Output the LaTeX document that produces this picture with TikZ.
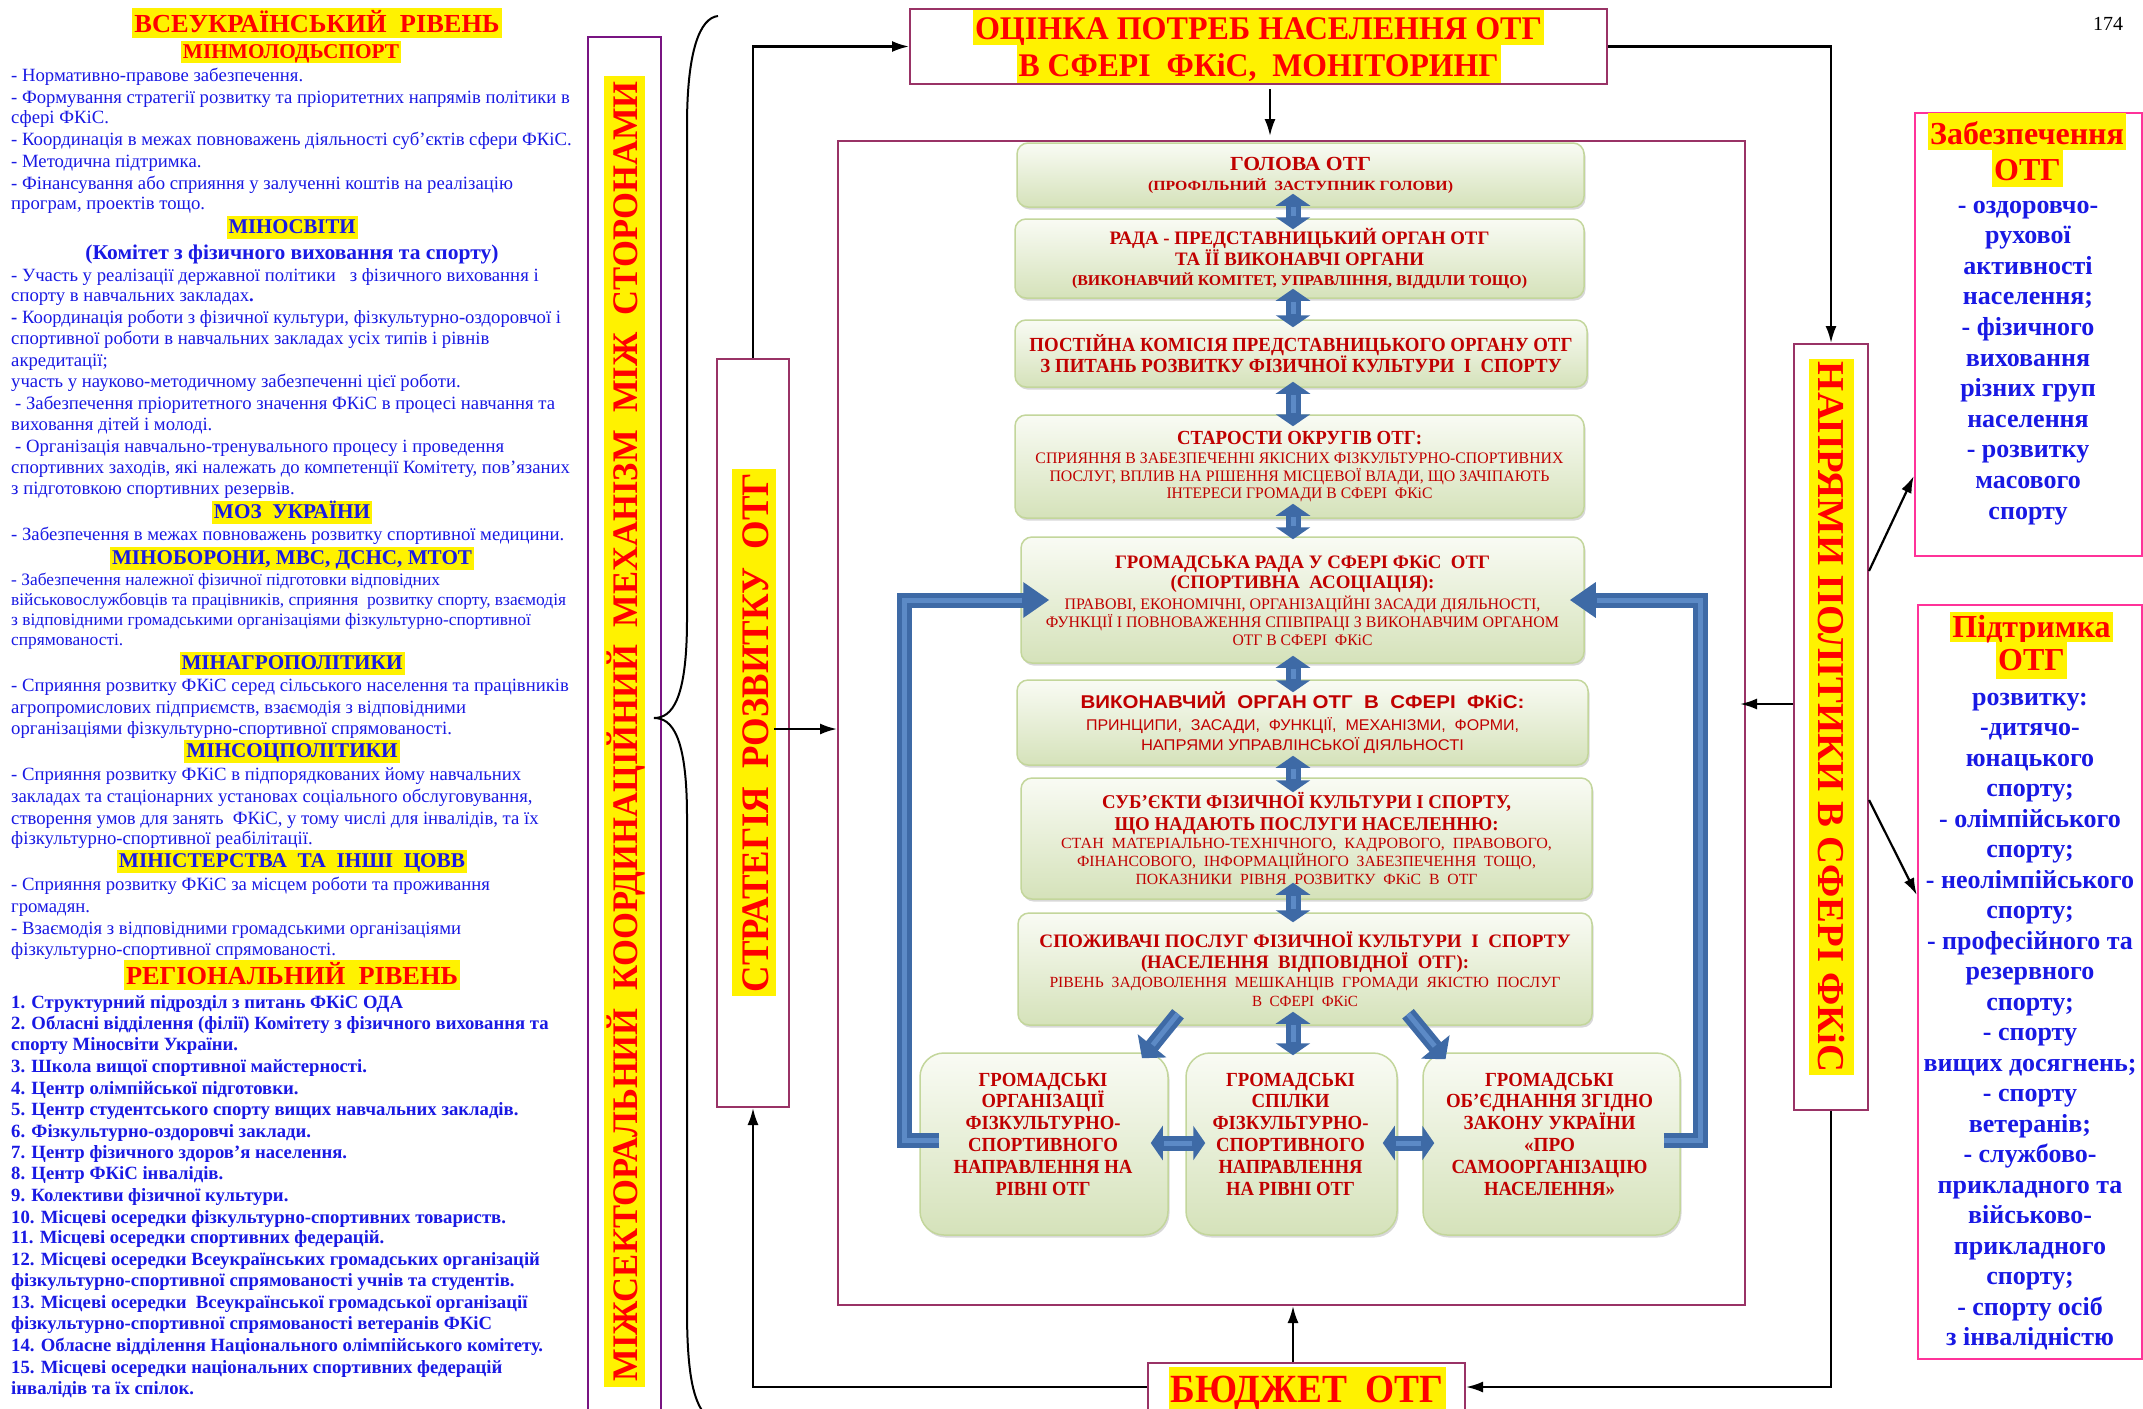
\documentclass[tikz,border=0pt]{standalone}
\usepackage{fontspec}
\setmainfont{Liberation Serif}
\newfontfamily\sansf{Liberation Sans}
\usepackage{graphicx}
\usetikzlibrary{arrows.meta,calc,shadows}
\newcommand\fs[2]{\fontsize{#1}{#2}\selectfont}
\newcommand\W[2]{\resizebox{#1pt}{\height}{#2}}
\definecolor{tblue}{RGB}{25,25,228}
\definecolor{tred}{RGB}{255,0,0}
\definecolor{dred}{RGB}{192,0,0}
\definecolor{maroonb}{RGB}{153,51,102}
\definecolor{purpb}{RGB}{120,20,130}
\definecolor{pinkb}{RGB}{255,51,153}
\definecolor{ablue}{RGB}{62,106,166}
\definecolor{alight}{RGB}{92,138,198}
\definecolor{gtop}{RGB}{249,251,244}
\definecolor{gbot}{RGB}{213,226,186}
\definecolor{gline}{RGB}{195,214,155}
\newcounter{ln}
\newcommand\LL[3][]{\stepcounter{ln}\node[bl,#1] (ln\arabic{ln}) at (11,#2) {#3};}
\tikzset{
  bl/.style={anchor=base west, inner sep=0pt, text=tblue, font=\fs{18.7}{21}},
  bb/.style={font=\fs{18.7}{21}\bfseries},
  sm/.style={font=\fs{17.4}{20}},
  hl/.style 2 args={anchor=base, fill=yellow, inner xsep=2pt, inner ysep=0pt, text height=#1pt, text depth=#2pt},
  bh/.style={hl={17}{6}, text=tblue, font=\fs{21}{23}\bfseries},
  mframe/.style={draw=maroonb, line width=2pt, inner sep=0pt, rectangle},
  pframe/.style={draw=pinkb, line width=2.5pt, inner sep=0pt, rectangle},
  gbox/.style={rectangle, rounded corners=11pt, draw=gline, line width=1.5pt, top color=gtop, bottom color=gbot, drop shadow={shadow xshift=1.5pt, shadow yshift=-2.5pt, opacity=0.3}, inner sep=0pt, text=dred, align=center},
  btxt/.style={align=center, text=dred, font=\fs{20}{21.8}\bfseries, inner sep=0pt},
  con/.style={draw=black, line width=2.2pt, -{Latex[length=17pt,width=11pt]}},
  barrow/.style={draw=ablue, line width=15pt, {Triangle[width=34pt,length=12pt]}-{Triangle[width=34pt,length=12pt]},
    postaction={draw=alight, line width=5pt, -, shorten <=13pt, shorten >=13pt}},
  sarrow/.style={draw=ablue, line width=15pt, -{Triangle[width=36pt,length=16pt]},
    postaction={draw=alight, line width=5pt, -, shorten >=17pt}},
  ubar/.style={draw=ablue, line width=15pt, line join=miter, -{Triangle[width=34pt,length=26pt]},
    postaction={draw=alight, line width=5pt, -, line join=miter, shorten >=27pt}},
  rb/.style={anchor=base, inner sep=0pt, text=tblue, font=\fs{26}{30}\bfseries},
}
\begin{document}
\begin{tikzpicture}[x=1pt,y=-1pt]
\fill[white] (0,0) rectangle (2143,1408);
\useasboundingbox (0,0) rectangle (2143,1408);
\clip (0,0) rectangle (2143,1408);

% ---------- left column ----------
\node[hl={24}{6}, text=tred, font=\fs{26}{28}\bfseries] (h1) at (317,32) {\W{365}{ВСЕУКРАЇНСЬКИЙ~~РІВЕНЬ}};
\node[hl={17}{5}, text=tred, font=\fs{21}{23}\bfseries] (h2) at (291,58) {\W{216}{МІНМОЛОДЬСПОРТ}};
\LL{81}{- Нормативно-правове забезпечення.}
\LL{103}{- Формування стратегії розвитку та пріоритетних напрямів політики в}
\LL{123}{сфері ФКіС.}
\LL{145}{- Координація в межах повноважень діяльності суб’єктів сфери ФКіС.}
\LL{167}{- Методична підтримка.}
\LL{189}{- Фінансування або сприяння у залученні коштів на реалізацію}
\LL{209}{програм, проектів тощо.}
\node[bh] (h3) at (292,233) {\W{127}{МІНОСВІТИ}};
\node[anchor=base, inner sep=0pt, text=tblue, font=\fs{21}{23}\bfseries] (h4) at (292,259) {\W{413}{(Комітет з фізичного виховання та спорту)}};
\LL{281}{- Участь у реалізації державної політики~~ з фізичного виховання і}
\LL{301}{спорту в навчальних закладах\textbf{.}}
\LL{323}{\textbf{-} Координація роботи з фізичної культури, фізкультурно-оздоровчої і}
\LL{344}{спортивної роботи в навчальних закладах усіх типів і рівнів}
\LL{366}{акредитації;}
\LL{387}{участь у науково-методичному забезпеченні цієї роботи.}
\LL[xshift=4pt]{409}{- Забезпечення пріоритетного значення ФКіС в процесі навчання та}
\LL{430}{виховання дітей і молоді.}
\LL[xshift=4pt]{452}{- Організація навчально-тренувального процесу і проведення}
\LL{473}{спортивних заходів, які належать до компетенції Комітету, пов'язаних}
\LL{494}{з підготовкою спортивних резервів.}
\node[bh] (h5) at (292,518) {\W{156}{МОЗ~~УКРАЇНИ}};
\LL{540}{- Забезпечення в межах повноважень розвитку спортивної медицини.}
\node[bh] (h6) at (292,564) {\W{360}{МІНОБОРОНИ, МВС, ДСНС, МТОТ}};
\LL[sm]{585}{- Забезпечення належної фізичної підготовки відповідних}
\LL[sm]{605}{військовослужбовців та працівників, сприяння~~розвитку спорту, взаємодія}
\LL[sm]{625}{з відповідними громадськими організаціями фізкультурно-спортивної}
\LL[sm]{645}{спрямованості.}
\node[bh] (h7) at (292,669) {\W{221}{МІНАГРОПОЛІТИКИ}};
\LL{691}{- Сприяння розвитку ФКіС серед сільського населення та працівників}
\LL{713}{агропромислових підприємств, взаємодія з відповідними}
\LL{734}{організаціями фізкультурно-спортивної спрямованості.}
\node[bh] (h8) at (292,757) {\W{211}{МІНСОЦПОЛІТИКИ}};
\LL{780}{- Сприяння розвитку ФКіС в підпорядкованих йому навчальних}
\LL{802}{закладах та стаціонарних установах соціального обслуговування,}
\LL{824}{створення умов для занять~~ФКіС, у тому числі для інвалідів, та їх}
\LL{844}{фізкультурно-спортивної реабілітації.}
\node[bh] (h9) at (292,867) {\W{346}{МІНІСТЕРСТВА~~ТА~~ІНШІ~~ЦОВВ}};
\LL{890}{- Сприяння розвитку ФКіС за місцем роботи та проживання}
\LL{912}{громадян.}
\LL{934}{- Взаємодія з відповідними громадськими організаціями}
\LL{955}{фізкультурно-спортивної спрямованості.}
\node[hl={24}{6}, text=tred, font=\fs{26}{28}\bfseries] (h10) at (292,984) {\W{332}{РЕГІОНАЛЬНИЙ~~РІВЕНЬ}};
\LL[bb]{1008}{1. Структурний підрозділ з питань ФКіС ОДА}
\LL[bb]{1029}{2. Обласні відділення (філії) Комітету з фізичного виховання та}
\LL[bb]{1050}{спорту Міносвіти України.}
\LL[bb]{1072}{3. Школа вищої спортивної майстерності.}
\LL[bb]{1094}{4. Центр олімпійської підготовки.}
\LL[bb]{1115}{5. Центр студентського спорту вищих навчальних закладів.}
\LL[bb]{1137}{6. Фізкультурно-оздоровчі заклади.}
\LL[bb]{1158}{7. Центр фізичного здоров'я населення.}
\LL[bb]{1179}{8. Центр ФКіС інвалідів.}
\LL[bb]{1201}{9. Колективи фізичної культури.}
\LL[bb]{1223}{10. Місцеві осередки фізкультурно-спортивних товариств.}
\LL[bb]{1243}{11. Місцеві осередки спортивних федерацій.}
\LL[bb]{1265}{12. Місцеві осередки Всеукраїнських громадських організацій}
\LL[bb]{1286}{фізкультурно-спортивної спрямованості учнів та студентів.}
\LL[bb]{1308}{13. Місцеві осередки~~Всеукраїнської громадської організації}
\LL[bb]{1329}{фізкультурно-спортивної спрямованості ветеранів ФКіС}
\LL[bb]{1351}{14. Обласне відділення Національного олімпійського комітету.}
\LL[bb]{1373}{15. Місцеві осередки національних спортивних федерацій}
\LL[bb]{1394}{інвалідів та їх спілок.}

% ---------- vertical frames ----------
\node[mframe, draw=purpb, minimum width=73pt, minimum height=1393pt] (mizh) at (624.5,733.5) {};
\node[hl={33}{8}, rotate=90, inner xsep=5pt, anchor=center, text=tred, font=\fs{36}{38}\bfseries] (mizhT) at (624.5,731.5) {\W{1300}{МІЖСЕКТОРАЛЬНИЙ~~КООРДИНАЦІЙНИЙ~~МЕХАНІЗМ~~МІЖ~~СТОРОНАМИ}};
\draw[line width=2pt] (718,16) .. controls (700,18) and (687,50) .. (687,126) -- (687,619) .. controls (687,700) and (672,718) .. (654,718) .. controls (672,718) and (687,736) .. (687,817) -- (687,1310) .. controls (687,1380) and (695,1400) .. (703,1412);

\node[mframe, minimum width=72pt, minimum height=748pt] (strat) at (753,733) {};
\node[hl={36}{8}, rotate=90, inner xsep=4pt, anchor=center, text=tred, font=\fs{39}{40}\bfseries] (stratT) at (754,732.5) {\W{519}{СТРАТЕГІЯ~~РОЗВИТКУ~~ОТГ}};

\node[mframe, minimum width=74pt, minimum height=766pt] (napr) at (1831,727) {};
\node[hl={36}{9}, rotate=-90, inner xsep=3pt, anchor=center, text=tred, font=\fs{38}{40}\bfseries] (naprT) at (1831.5,717) {\W{710}{НАПРЯМИ ПОЛІТИКИ В СФЕРІ ФКіС}};

% ---------- top / bottom title boxes ----------
\node[mframe, minimum width=697pt, minimum height=75pt] (ocinka) at (1258.5,46.5) {};
\node[hl={29}{6}, text=tred, font=\fs{33}{36}\bfseries] (oc1) at (1258.5,39) {\W{567}{ОЦІНКА ПОТРЕБ НАСЕЛЕННЯ ОТГ}};
\node[hl={31}{7}, text=tred, font=\fs{33}{36}\bfseries] (oc2) at (1258.5,76) {\W{480}{В СФЕРІ~~ФКіС,~~МОНІТОРИНГ}};

\node[mframe, minimum width=907pt, minimum height=1164pt] (main) at (1291.5,723) {};

\node[mframe, minimum width=317pt, minimum height=60pt] (budget) at (1306.5,1393) {};
\node[hl={35}{8}, text=tred, font=\fs{40}{42}\bfseries] (budT) at (1307,1402) {\W{273}{БЮДЖЕТ~~ОТГ}};

% ---------- right boxes ----------
\node[pframe, minimum width=227pt, minimum height=443pt] (zabez) at (2028.5,334.5) {};
\node[hl={31}{6}, text=tred, font=\fs{32}{34}\bfseries] (zt1) at (2027,144) {Забезпечення};
\node[hl={30}{7}, text=tred, font=\fs{32}{34}\bfseries] (zt2) at (2027.5,180) {ОТГ};
\foreach \t [count=\i from 0] in {- оздоровчо-, рухової, активності, населення;, - фізичного, виховання, різних груп, населення, - розвитку, масового, спорту}
  {\node[rb] (zb\i) at (2028,213+30.6*\i) {\t};}

\node[pframe, minimum width=224pt, minimum height=754pt] (pidtr) at (2030,982) {};
\node[hl={25}{5}, text=tred, font=\fs{32}{34}\bfseries] (pt1) at (2031.5,637) {Підтримка};
\node[hl={28}{9}, text=tred, font=\fs{32}{34}\bfseries] (pt2) at (2031.5,670) {ОТГ};
\foreach \t [count=\i from 0] in {розвитку:, -дитячо-, юнацького, спорту;, - олімпійського, спорту;, - неолімпійського, спорту;, - професійного та, резервного, спорту;, - спорту, вищих досягнень;, - спорту, ветеранів;, - службово-, прикладного та, військово-, прикладного, спорту;, - спорту осіб, з інвалідністю}
  {\node[rb] (pb\i) at (2030,705+30.5*\i) {\t};}

\node[anchor=base, inner sep=0pt, font=\fs{20}{22}] (pg) at (2108,30) {174};

% ---------- green boxes ----------
\node[gbox, minimum width=567pt, minimum height=64pt, font=\fs{14}{20}\bfseries] (b1) at (1300.5,175)
 {{\fs{20}{20}\W{141}{ГОЛОВА ОТГ}}\\\W{305}{(ПРОФІЛЬНИЙ~~ЗАСТУПНИК ГОЛОВИ)}};
\node[gbox, minimum width=569pt, minimum height=79pt, font=\fs{15}{21}\bfseries] (b2) at (1299.5,258.5)
 {{\fs{19}{21}\W{380}{РАДА - ПРЕДСТАВНИЦЬКИЙ ОРГАН ОТГ}}\\{\fs{19}{21}\W{249}{ТА ЇЇ ВИКОНАВЧІ ОРГАНИ}}\\[-1pt]\W{455}{(ВИКОНАВЧИЙ КОМІТЕТ, УПРАВЛІННЯ, ВІДДІЛИ ТОЩО)}};
\node[gbox, minimum width=572pt, minimum height=67pt, font=\fs{20}{21}\bfseries] (b3) at (1301,353.5)
 {\W{543}{ПОСТІЙНА КОМІСІЯ ПРЕДСТАВНИЦЬКОГО ОРГАНУ ОТГ}\\\W{521}{З ПИТАНЬ РОЗВИТКУ ФІЗИЧНОЇ КУЛЬТУРИ~~І~~СПОРТУ}};
\node[gbox, minimum width=569pt, minimum height=103pt, font=\fs{16}{17.7}] (b4) at (1299.5,466.5)
 {{\bfseries\fs{20}{20}\W{245}{СТАРОСТИ ОКРУГІВ ОТГ:}}\\[1.5pt]\W{528}{СПРИЯННЯ В ЗАБЕЗПЕЧЕННІ ЯКІСНИХ ФІЗКУЛЬТУРНО-СПОРТИВНИХ}\\\W{500}{ПОСЛУГ, ВПЛИВ НА РІШЕННЯ МІСЦЕВОЇ ВЛАДИ, ЩО ЗАЧІПАЮТЬ}\\\W{266}{ІНТЕРЕСИ ГРОМАДИ В СФЕРІ~~ФКіС}};
\node[gbox, minimum width=563pt, minimum height=126pt, font=\fs{16}{18}] (b5) at (1302.5,600)
 {{\bfseries\fs{19}{19}\W{375}{ГРОМАДСЬКА РАДА У СФЕРІ ФКіС~~ОТГ}}\\[2pt]{\bfseries\fs{19}{19}\W{264}{(СПОРТИВНА~~АСОЦІАЦІЯ):}}\\[3pt]\W{476}{ПРАВОВІ, ЕКОНОМІЧНІ, ОРГАНІЗАЦІЙНІ ЗАСАДИ ДІЯЛЬНОСТІ,}\\\W{513}{ФУНКЦІЇ І ПОВНОВАЖЕННЯ СПІВПРАЦІ З ВИКОНАВЧИМ ОРГАНОМ}\\\W{140}{ОТГ В СФЕРІ~~ФКіС}};
\node[gbox, minimum width=571pt, minimum height=85pt, font=\sansf\fs{15.5}{19.5}] (b6) at (1302.5,722.5)
 {{\bfseries\fs{18.5}{19}\W{444}{ВИКОНАВЧИЙ~~ОРГАН ОТГ~~В~~СФЕРІ~~ФКіС:}}\\[2.5pt]\W{433}{ПРИНЦИПИ,~~ЗАСАДИ,~~ФУНКЦІЇ,~~МЕХАНІЗМИ,~~ФОРМИ,}\\\W{323}{НАПРЯМИ УПРАВЛІНСЬКОЇ ДІЯЛЬНОСТІ}};
\node[gbox, minimum width=571pt, minimum height=121pt, font=\fs{15.5}{18}] (b7) at (1306.5,838.5)
 {{\bfseries\fs{19.5}{19}\W{409}{СУБ’ЄКТИ ФІЗИЧНОЇ КУЛЬТУРИ І СПОРТУ,}}\\[4pt]{\bfseries\fs{19.5}{19}\W{384}{ЩО НАДАЮТЬ ПОСЛУГИ НАСЕЛЕННЮ:}}\\\W{491}{СТАН~~МАТЕРІАЛЬНО-ТЕХНІЧНОГО,~~КАДРОВОГО,~~ПРАВОВОГО,}\\\W{459}{ФІНАНСОВОГО,~~ІНФОРМАЦІЙНОГО~~ЗАБЕЗПЕЧЕННЯ~~ТОЩО,}\\\W{342}{ПОКАЗНИКИ~~РІВНЯ~~РОЗВИТКУ~~ФКіС~~В~~ОТГ}};
\node[gbox, minimum width=574pt, minimum height=112pt, font=\fs{15.5}{19}] (b8) at (1305,969)
 {{\bfseries\fs{19}{19}\W{531}{СПОЖИВАЧІ ПОСЛУГ ФІЗИЧНОЇ КУЛЬТУРИ~~І~~СПОРТУ}}\\[2pt]{\bfseries\fs{19}{19}\W{328}{(НАСЕЛЕННЯ~~ВІДПОВІДНОЇ~~ОТГ):}}\\\W{511}{РІВЕНЬ~~ЗАДОВОЛЕННЯ~~МЕШКАНЦІВ~~ГРОМАДИ~~ЯКІСТЮ~~ПОСЛУГ}\\\W{106}{В~~СФЕРІ~~ФКіС}};

\node[gbox, rounded corners=24pt, minimum width=248pt, minimum height=182pt] (A) at (1044,1144) {};
\node[gbox, rounded corners=24pt, minimum width=211pt, minimum height=182pt] (B) at (1291.5,1144) {};
\node[gbox, rounded corners=24pt, minimum width=257pt, minimum height=182pt] (C) at (1551.5,1144) {};
\node[btxt] (At) at ($(A.center)+(-1,-10)$) {\W{129}{ГРОМАДСЬКІ}\\\W{123}{ОРГАНІЗАЦІЇ}\\\W{155}{ФІЗКУЛЬТУРНО-}\\\W{150}{СПОРТИВНОГО}\\\W{179}{НАПРАВЛЕННЯ НА}\\\W{95}{РІВНІ ОТГ}};
\node[btxt] (Bt) at ($(B.center)+(-1,-10)$) {\W{129}{ГРОМАДСЬКІ}\\\W{78}{СПІЛКИ}\\\W{156}{ФІЗКУЛЬТУРНО-}\\\W{149}{СПОРТИВНОГО}\\\W{144}{НАПРАВЛЕННЯ}\\\W{129}{НА РІВНІ ОТГ}};
\node[btxt] (Ct) at ($(C.center)+(-2,-10)$) {\W{129}{ГРОМАДСЬКІ}\\\W{207}{ОБ’ЄДНАННЯ ЗГІДНО}\\\W{172}{ЗАКОНУ УКРАЇНИ}\\\W{51}{«ПРО}\\\W{196}{САМООРГАНІЗАЦІЮ}\\\W{131}{НАСЕЛЕННЯ»}};

% ---------- blue arrows ----------
\coordinate (ax) at (1293,0);
\draw[barrow] ($(ax|-b1.south)+(0,-14)$) -- ($(ax|-b2.north)+(0,11)$);
\draw[barrow] ($(ax|-b2.south)+(0,-10)$) -- ($(ax|-b3.north)+(0,8)$);
\draw[barrow] ($(ax|-b3.south)+(0,-6)$) -- ($(ax|-b4.north)+(0,12)$);
\draw[barrow] ($(ax|-b4.south)+(0,-15)$) -- ($(ax|-b5.north)+(0,3)$);
\draw[barrow] ($(ax|-b5.south)+(0,-8)$) -- ($(ax|-b6.north)+(0,13)$);
\draw[barrow] ($(ax|-b6.south)+(0,-10)$) -- ($(ax|-b7.north)+(0,15)$);
\draw[barrow] ($(ax|-b7.south)+(0,-17)$) -- ($(ax|-b8.north)+(0,10)$);
\draw[barrow] ($(ax|-b8.south)+(0,-14)$) -- ($(ax|-B.north)+(0,3)$);
\draw[sarrow] ($(b8.south)+(-127,-12)$) -- ($(A.north)+(98,6)$);
\draw[sarrow] ($(b8.south)+(103,-12)$) -- ($(C.north)+(-106,7)$);
\draw[barrow] ($(A.east)+(-18,-1)$) -- ($(B.west)+(20,-1)$);
\draw[barrow] ($(B.east)+(-15,-1)$) -- ($(C.west)+(12,-1)$);
\draw[ubar] ($(A.west)+(20,-4)$) -| ($(b5.west)+(-116,0)$) -- ($(b5.west)+(29,0)$);
\draw[ubar] ($(C.east)+(-17,-4)$) -| ($(b5.east)+(116,0)$) -- ($(b5.east)+(-15,0)$);

% ---------- black connectors ----------
\draw[con] (strat.north) |- (ocinka.west);
\draw[con] ($(strat.east)+(-16,-4)$) -- ($(main.west)+(0,6)$);
\draw[con] ($(ocinka.south)+(11.5,4)$) -- ($(main.north)+(-21.5,-4)$);
\draw[con] (ocinka.east) -| (napr.north);
\draw[con] ($(napr.west)+(0,-23)$) -- ($(main.east)+(-6,-19)$);
\draw[con] (napr.south) |- ($(budget.east)+(0,-6)$);
\draw[con] ($(budget.west)+(0,-6)$) -| (strat.south);
\draw[con] ($(budget.north)+(-13.5,0)$) -- ($(main.south)+(1.5,0)$);
\draw[con] ($(napr.east)+(0,-156)$) -- ($(zabez.west)+(0,141.5)$);
\draw[con] ($(napr.east)+(0,73)$) -- ($(pidtr.west)+(0,-87)$);
\end{tikzpicture}
\end{document}
